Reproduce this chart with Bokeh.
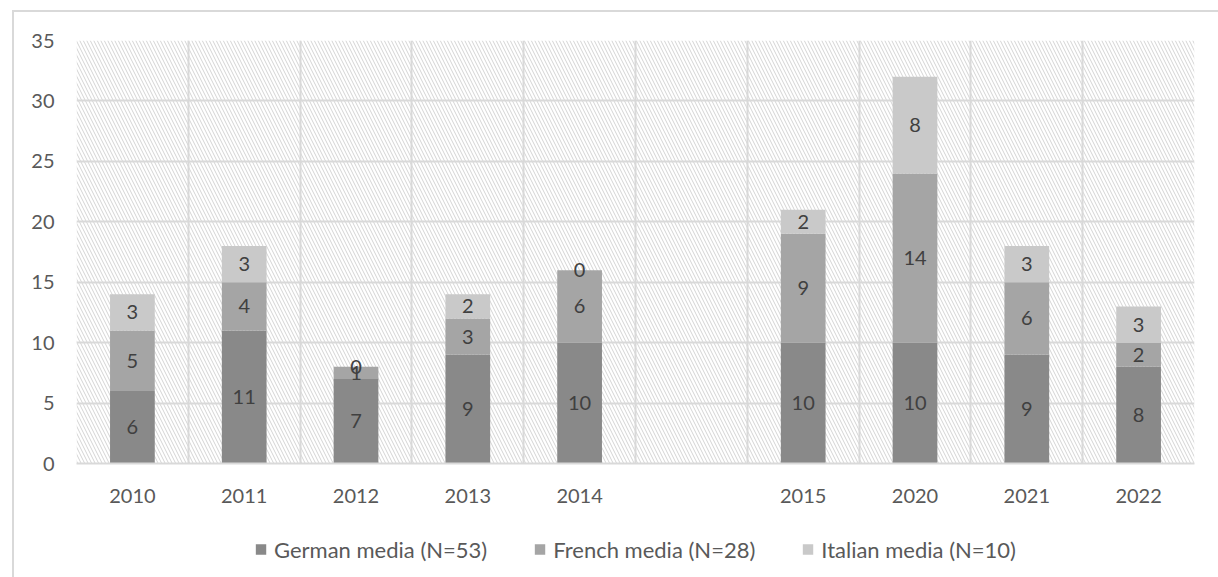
import numpy as np
from bokeh.plotting import figure
from bokeh.layouts import column
from bokeh.models import (ColumnDataSource, FixedTicker, BoxAnnotation, Legend,
                          LegendItem, LabelSet, Range1d)
from bokeh.core.properties import value
from bokeh.embed import file_html
from bokeh.resources import INLINE

categories = ["2010", "2011", "2012", "2013", "2014", "", "2015", "2020", "2021", "2022"]
german = [6, 11, 7, 9, 10, None, 10, 10, 9, 8]
french = [5, 4, 1, 3, 6, None, 9, 14, 6, 2]
italian = [3, 3, 0, 2, 0, None, 2, 8, 3, 3]
series_names = ["German media (N=53)", "French media (N=28)", "Italian media (N=10)"]
colors = ["#898989", "#a5a5a5", "#c9c9c9"]
y_ticks = [0, 5, 10, 15, 20, 25, 30, 35]

FONT = "Lato"
FS = "20px"
FS_LEG = "22px"

idx = [i for i, c in enumerate(categories) if c != ""]
x = [i + 0.5 for i in idx]
g = np.array([german[i] for i in idx], dtype=float)
f = np.array([french[i] for i in idx], dtype=float)
it = np.array([italian[i] for i in idx], dtype=float)

src = ColumnDataSource(dict(
    x=x, g=g, f=f, i=it,
    g_mid=g / 2, f_mid=g + f / 2, i_mid=g + f + it / 2,
    g_lab=[str(int(v)) for v in g], f_lab=[str(int(v)) for v in f],
    i_lab=[str(int(v)) for v in it],
))

W = 1204
p = figure(width=W, height=508, output_backend="svg", toolbar_location=None,
           x_range=Range1d(0, len(categories)), y_range=Range1d(0, 35),
           min_border_left=62, min_border_right=24, min_border_top=28,
           min_border_bottom=57)
p.outline_line_color = None

# hatched plot area background
p.add_layout(BoxAnnotation(fill_color=None, line_color=None, hatch_pattern="\\",
                           hatch_color="#d4d4d4", hatch_scale=7, hatch_weight=1,
                           level="image"))

renderers = p.vbar_stack(["g", "f", "i"], x="x", width=0.4, source=src,
                         color=colors, line_color=None)

for ycol, lcol in [("g_mid", "g_lab"), ("f_mid", "f_lab"), ("i_mid", "i_lab")]:
    p.add_layout(LabelSet(x="x", y=ycol, text=lcol, source=src, text_align="center",
                          text_baseline="middle", text_color="#404040",
                          text_font=value(FONT), text_font_size=value(FS)))

# axes
p.xaxis.ticker = FixedTicker(ticks=[i + 0.5 for i in range(len(categories))])
p.xaxis.major_label_overrides = {i + 0.5: c for i, c in enumerate(categories)}
p.xaxis.major_tick_line_color = None
p.xaxis.major_tick_out = 0
p.xaxis.major_tick_in = 0
p.xaxis.minor_tick_line_color = None
p.xaxis.axis_line_color = "#d9d9d9"
p.xaxis.axis_line_width = 2
p.xaxis.major_label_text_font = FONT
p.xaxis.major_label_text_font_size = FS
p.xaxis.major_label_text_color = "#595959"
p.xaxis.major_label_standoff = 25

p.yaxis.ticker = FixedTicker(ticks=y_ticks)
p.yaxis.major_tick_line_color = None
p.yaxis.major_tick_out = 0
p.yaxis.major_tick_in = 0
p.yaxis.minor_tick_line_color = None
p.yaxis.axis_line_color = None
p.yaxis.major_label_text_font = FONT
p.yaxis.major_label_text_font_size = FS
p.yaxis.major_label_text_color = "#595959"
p.yaxis.major_label_standoff = 22

p.xgrid.ticker = FixedTicker(ticks=list(range(len(categories) + 1)))
p.xgrid.grid_line_color = "#d9d9d9"
p.xgrid.grid_line_width = 2
p.ygrid.grid_line_color = "#d9d9d9"
p.ygrid.grid_line_width = 2

# legend strip (its own figure below the chart; swatches come from hidden copies
# of the same stacked bars)
lf = figure(width=W, height=57, output_backend="svg", toolbar_location=None,
            x_range=Range1d(0, 1), y_range=Range1d(0, 1),
            x_axis_type=None, y_axis_type=None,
            min_border_left=24, min_border_right=24, min_border_top=0,
            min_border_bottom=0)
lf.outline_line_color = None
lf.xgrid.visible = False
lf.ygrid.visible = False
leg_r = lf.vbar_stack(["g", "f", "i"], x="x", width=0.4, source=src,
                      color=colors, line_color=None)
for r in leg_r:
    r.visible = False

legend = Legend(items=[LegendItem(label=n, renderers=[r]) for n, r in zip(series_names, leg_r)],
                orientation="horizontal", location="center",
                label_text_font=FONT, label_text_font_size=FS_LEG, label_text_color="#595959",
                glyph_width=13, glyph_height=13, label_standoff=7, spacing=46,
                padding=0, margin=0, border_line_color=None, background_fill_alpha=0,
                inactive_fill_alpha=0)
lf.add_layout(legend, "center")

layout = column(p, lf, spacing=0, margin=(10, 0, 0, 12),
                styles={"border-left": "2px solid #d9d9d9", "border-top": "2px solid #d9d9d9"})

open("out.html", "w").write(file_html(layout, INLINE))
